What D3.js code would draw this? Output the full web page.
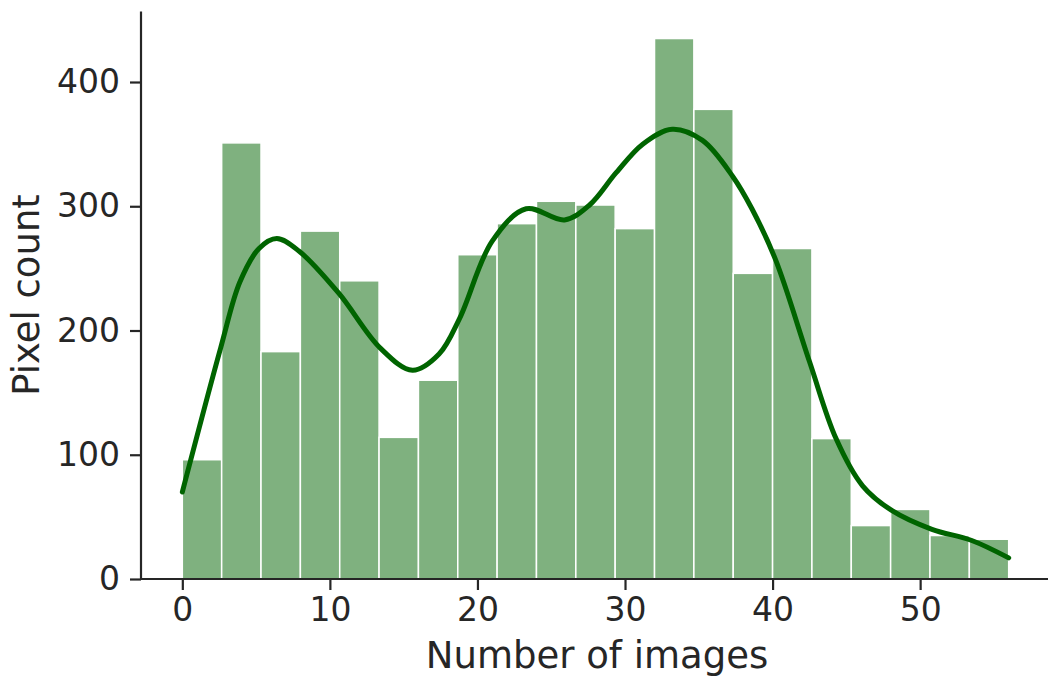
<!DOCTYPE html>
<html>
<head>
<meta charset="utf-8">
<script src="https://cdn.jsdelivr.net/npm/d3@7"></script>
<style>
	body { margin: 0; background: #fff; }
	text { font-family: "DejaVu Sans", sans-serif; fill: #262626; }
</style>
</head>
<body>
<svg id="chart" width="1048" height="677"></svg>
<script>
// histogram: 21 bins over 0..56
var binEdgesMax = 56,
	binCount = 21;
var counts = [96, 351, 183, 280, 240, 114, 160, 261, 286, 304, 301, 282, 435, 378, 246, 266, 113, 43, 56, 35, 32];

// kde curve
var kdeX = [0, 2.6, 3.9, 5.2, 6.4, 7.9, 10.6, 13.4, 15.6, 17.4, 18.8, 21.0, 23.3, 25.9, 27.6, 29.4, 31.2, 33.2, 35.25, 37.3, 38.6, 40.2, 42.5, 44.3, 46.1, 48.1, 50.8, 53.5, 56];
var kdeY = [70, 186, 239, 266, 274, 264, 230, 186, 168, 181, 210, 272, 298, 289, 301, 327, 350, 362, 353, 324, 298, 257, 175, 113, 75, 55, 40, 31, 17];

var xTicks = [0, 10, 20, 30, 40, 50],
	yTicks = [0, 100, 200, 300, 400];

var svg = d3.select('#chart');

var x = d3.scaleLinear().domain([-2.8, 58.8]).range([141, 1050]);
var y = d3.scaleLinear().domain([0, 456.75]).range([579, 11.5]);

var binW = binEdgesMax / binCount;
var bins = counts.map(function(c, i){
	return { x0: i * binW, x1: (i + 1) * binW, count: c };
});

svg.append('g')
	.selectAll('rect')
	.data(bins)
	.enter()
	.append('rect')
		.attr('x', d => x(d.x0))
		.attr('y', d => y(d.count))
		.attr('width', d => x(d.x1) - x(d.x0))
		.attr('height', d => y(0) - y(d.count))
		.style('fill', '#006400')
		.style('fill-opacity', 0.5)
		.style('stroke', '#fff')
		.style('stroke-width', 1.5);

var kde = kdeX.map((v, i) => [v, kdeY[i]]);
var line = d3.line()
	.x(d => x(d[0]))
	.y(d => y(d[1]))
	.curve(d3.curveCatmullRom);

svg.append('path')
	.datum(kde)
	.attr('d', line)
	.style('fill', 'none')
	.style('stroke', '#006400')
	.style('stroke-width', 5)
	.style('stroke-linecap', 'round');

// axes
var xAxis = svg.append('g')
	.attr('transform', 'translate(0,579)')
	.call(d3.axisBottom(x).tickValues(xTicks).tickSize(11).tickPadding(8).tickFormat(d3.format('d')));
var yAxis = svg.append('g')
	.attr('transform', 'translate(141,0)')
	.call(d3.axisLeft(y).tickValues(yTicks).tickSize(11).tickPadding(10).tickFormat(d3.format('d')));

[xAxis, yAxis].forEach(function(a){
	a.select('.domain').attr('stroke', '#262626').attr('stroke-width', 2.2);
	a.selectAll('.tick line').attr('stroke', '#262626').attr('stroke-width', 2.2);
	a.selectAll('.tick text').style('font-size', '33px').attr('fill', '#262626');
});
xAxis.select('.domain').attr('d', 'M141,0H1050');
yAxis.select('.domain').attr('d', 'M0,579V11.5');

svg.append('text')
	.attr('x', 597)
	.attr('y', 668)
	.attr('text-anchor', 'middle')
	.style('font-size', '37px')
	.text('Number of images');

svg.append('text')
	.attr('transform', 'translate(39,295) rotate(-90)')
	.attr('text-anchor', 'middle')
	.style('font-size', '37px')
	.text('Pixel count');
</script>
</body>
</html>
